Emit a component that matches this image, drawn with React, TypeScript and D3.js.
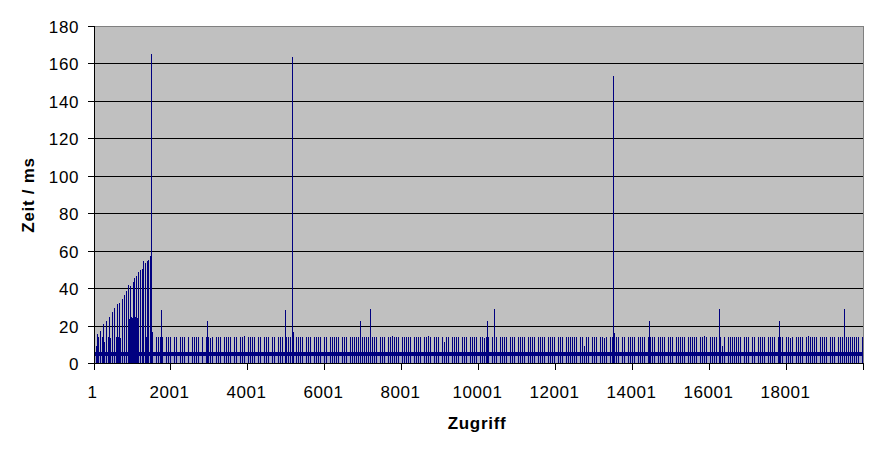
import React from 'react';
import * as d3 from 'd3';

// ---- data ----
const CATEGORY_COUNT = 20000;
const X_TICK_LABELS = [1, 2001, 4001, 6001, 8001, 10001, 12001, 14001, 16001, 18001];
const Y_TICKS = [0, 20, 40, 60, 80, 100, 120, 140, 160, 180];

// regular access times, one code per group of 52 accesses (max of group)
const GROUP_SIZE = 52;
const LEVELS: Record<string, number> = { a: 14.4, b: 14.9, c: 13.8, m: 11.5, s: 9.5 };
const REGULAR_CODES = [
  'asaaamaacaaaacasaaaa',
  'aa-aa-aa-a-aaaa-aaa-',
  'aa-aaa-a-aaaa-a-aaca',
  '-aaa-aaaa-aa-aab-aaa',
  'a-aa-aaa-aa-aaa-aaaa',
  '-aaaa-aaa-aaaa-aa-aa',
  'aaa-aaa-aaaaa-aaaa-a',
  'aa-aaa-aabaaa-aaaaa-',
  'aaaa-aaba-aaa-amaa-a',
  'aaa-aaa-aaaa-aacaa-a',
  'aa-aaaa-aaa-aaaa-aaa',
  'a-aaaa-aaaa-aaa-aaaa',
  'aa-aasaa-aaa-aaca-aa',
  'aaa-aa-aaaa-aaaa-aaa',
  'a-aaaa-aaa-aaaaa-aaa',
  'aa-aaba-aaaa-asa-aaa',
  'aaaa-aaa-aa-aaaa-aaa',
  'a-aaa-aaca-aaaa-abaa',
  'aa-aaaa-aaa-aaa-aaaa',
  'aaa-a',
].join('');

// base level present at every access (ms)
const BASE_LOW = 4;
const BASE_HIGH = 6;

// warm-up ramp in the first ~1500 accesses: [access, ms]
const RAMP: [number, number][] = [
  [86, 15.7], [164, 17.3], [242, 21], [320, 22.7], [398, 24.8], [476, 27.5],
  [528, 29.6], [606, 31.7], [658, 32.5], [736, 34.4], [788, 36.5], [840, 38.7],
  [892, 41.9], [944, 41.3], [1022, 43.5], [1048, 45.6], [1100, 46.7], [1152, 48.8],
  [1204, 49.9], [1256, 50.4], [1282, 54.7], [1334, 53.6], [1386, 54.7], [1412, 55.2],
  [1464, 57.3],
];
const RAMP_BLOCK: [number, number][] = [
  [918, 23.8], [970, 24.6], [996, 24.2], [1074, 24.8], [1126, 24.1],
];

// isolated outliers: [access, ms]
const SPIKES: [number, number][] = [
  [1482, 165], [1516, 16.8], [1750, 28.5], [2946, 22.7], [4975, 28.5],
  [5156, 163.5], [5182, 17], [6925, 22.7], [7185, 28.9], [10227, 22.7],
  [10409, 28.9], [13502, 153.3], [13520, 16.4], [14439, 22.7], [16259, 28.9],
  [17819, 22.7], [19483, 28.9],
];

// ---- chart ----
const W = 877;
const H = 449;
const BAR = '#000080';
const FONT = "Arial, 'Liberation Sans', sans-serif";

export default function App() {
  const x = d3.scaleLinear().domain([0, CATEGORY_COUNT]).range([94, 864]);
  const y = d3.scaleLinear().domain([0, 180]).range([363.5, 26]);
  const x0 = x(0);
  const x1 = x(CATEGORY_COUNT);
  const yb = y(0);

  const bar = (access: number, v: number, key: string) => {
    const px = Math.floor(x(access - 1));
    const top = Math.round(y(v));
    return <rect key={key} x={px} y={top} width={1} height={Math.ceil(yb) - top} fill={BAR} />;
  };

  const regular = REGULAR_CODES.split('').map((c, k) =>
    c === '-' ? null : bar(k * GROUP_SIZE + 1, LEVELS[c], 'r' + k)
  );

  return (
    <svg width={W} height={H} style={{ position: 'absolute', left: 0, top: 0, background: '#fff' }}
      shapeRendering="crispEdges">
      <rect x={0} y={0} width={W} height={H} fill="#fff" />
      <rect x={x0} y={26} width={x1 - x0} height={yb - 26} fill="#C0C0C0" />
      {/* base band */}
      <rect x={x0} y={y(BASE_LOW)} width={x1 - x0} height={yb - y(BASE_LOW)} fill="#a2a2c4" />
      <rect x={x0} y={y(BASE_HIGH)} width={x1 - x0} height={y(BASE_LOW) - y(BASE_HIGH)} fill={BAR} />
      {/* gridlines */}
      {Y_TICKS.filter((t) => t > 0 && t < 180).map((t) => (
        <line key={'g' + t} x1={x0} x2={x1} y1={Math.floor(y(t)) + 0.5} y2={Math.floor(y(t)) + 0.5}
          stroke="#000" strokeWidth={1} />
      ))}
      {regular}
      {RAMP_BLOCK.map(([a, v], i) => bar(a, v, 'b' + i))}
      {RAMP.map(([a, v], i) => bar(a, v, 'p' + i))}
      {SPIKES.map(([a, v], i) => bar(a, v, 's' + i))}
      {/* plot border */}
      <line x1={x0} x2={x1} y1={26.5} y2={26.5} stroke="#808080" />
      <line x1={x1 - 0.5} x2={x1 - 0.5} y1={26} y2={yb} stroke="#808080" />
      {/* axes */}
      <line x1={94.5} x2={94.5} y1={26} y2={364} stroke="#000" />
      <line x1={88} x2={x1} y1={363.5} y2={363.5} stroke="#000" />
      {Y_TICKS.map((t) => {
        const yy = Math.floor(y(t)) + 0.5;
        return (
          <g key={'yt' + t}>
            <line x1={88} x2={94} y1={yy} y2={yy} stroke="#000" />
            <text x={79} y={yy + 6} textAnchor="end" fontFamily={FONT} fontSize={17}
              letterSpacing={0.6} shapeRendering="auto">{t}</text>
          </g>
        );
      })}
      {[...X_TICK_LABELS, CATEGORY_COUNT + 1].map((t) => {
        const xx = Math.max(94.5, Math.round(x(t - 1)) - 0.5);
        return <line key={'xt' + t} x1={xx} x2={xx} y1={363} y2={369.5} stroke="#000" />;
      })}
      {X_TICK_LABELS.map((t) => (
        <text key={'xl' + t} x={x(t - 1) - 1.5} y={398} textAnchor="middle" fontFamily={FONT}
          fontSize={17} letterSpacing={0.5}>{t}</text>
      ))}
      <text x={477} y={429} textAnchor="middle" fontFamily={FONT} fontSize={17} fontWeight="bold"
        letterSpacing={0.7}>Zugriff</text>
      <text transform="translate(34,195) rotate(-90)" textAnchor="middle" fontFamily={FONT}
        fontSize={17} fontWeight="bold" letterSpacing={0.7}>Zeit / ms</text>
    </svg>
  );
}
